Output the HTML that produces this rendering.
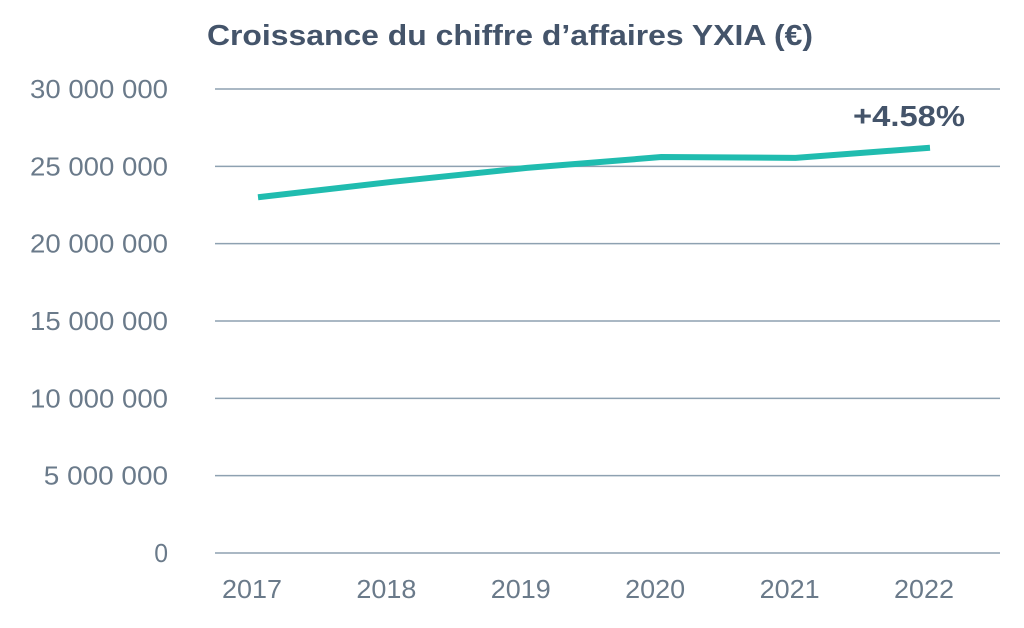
<!DOCTYPE html>
<html><head><meta charset="utf-8"><style>
html,body{margin:0;padding:0;background:#fff;}
svg{display:block;font-family:"Liberation Sans",sans-serif;}
</style></head><body>
<svg id="chart" width="1024" height="628" viewBox="0 0 1024 628">
<text x="510" y="45" text-anchor="middle" font-size="29" font-weight="bold" fill="#44546a" textLength="606" lengthAdjust="spacingAndGlyphs">Croissance du chiffre d’affaires YXIA (€)</text>
<g id="grid"></g>
<g id="yaxis"></g>
<g id="xaxis"></g>
<g id="series"></g>
<text x="909" y="126" text-anchor="middle" font-size="29" font-weight="bold" fill="#44546a" textLength="112" lengthAdjust="spacingAndGlyphs">+4.58%</text>
</svg>
<script>
const categories = ["2017","2018","2019","2020","2021","2022"];
const revenue = [23000000, 24000000, 24900000, 25600000, 25550000, 26200000];
const yTicks = [0, 5000000, 10000000, 15000000, 20000000, 25000000, 30000000];
const yTickLabels = ["0","5 000 000","10 000 000","15 000 000","20 000 000","25 000 000","30 000 000"];
const NS="http://www.w3.org/2000/svg";
const y0=553, y1=89, yMax=30000000;
function yScale(v){return y0-(v/yMax)*(y0-y1);}
function xScale(i){return 258+i*(930-258)/(categories.length-1);}
const grid=document.getElementById('grid'), ya=document.getElementById('yaxis'), xa=document.getElementById('xaxis'), se=document.getElementById('series');
yTicks.forEach((t,i)=>{
  const l=document.createElementNS(NS,'line');
  
  
  l.setAttribute('x1',215);l.setAttribute('x2',1000);
  l.setAttribute('y1',yScale(t));l.setAttribute('y2',yScale(t));
  l.setAttribute('stroke','#8ea1b1');l.setAttribute('stroke-width','1.5');
  grid.appendChild(l);
  const tx=document.createElementNS(NS,'text');
  
  
  tx.setAttribute('x',168);tx.setAttribute('y',yScale(t)+9);
  tx.setAttribute('text-anchor','end');tx.setAttribute('font-size','26');tx.setAttribute('fill','#6a7a8a');
  tx.setAttribute('textLength', (yTickLabels[i].length*13.8).toFixed(1));
  tx.setAttribute('lengthAdjust','spacingAndGlyphs');
  tx.textContent=yTickLabels[i];
  ya.appendChild(tx);
});
categories.forEach((c,i)=>{
  const tx=document.createElementNS(NS,'text');
  
  
  tx.setAttribute('x',xScale(i)-6);tx.setAttribute('y',598);
  tx.setAttribute('text-anchor','middle');tx.setAttribute('font-size','26');tx.setAttribute('fill','#6a7a8a');
  tx.setAttribute('textLength','60');tx.setAttribute('lengthAdjust','spacingAndGlyphs');
  tx.textContent=c;
  xa.appendChild(tx);
});
const p=document.createElementNS(NS,'polyline');


p.setAttribute('points',revenue.map((v,i)=>xScale(i)+','+yScale(v)).join(' '));
p.setAttribute('fill','none');p.setAttribute('stroke','#20bcaf');p.setAttribute('stroke-width','6');
se.appendChild(p);
</script>
</body></html>
